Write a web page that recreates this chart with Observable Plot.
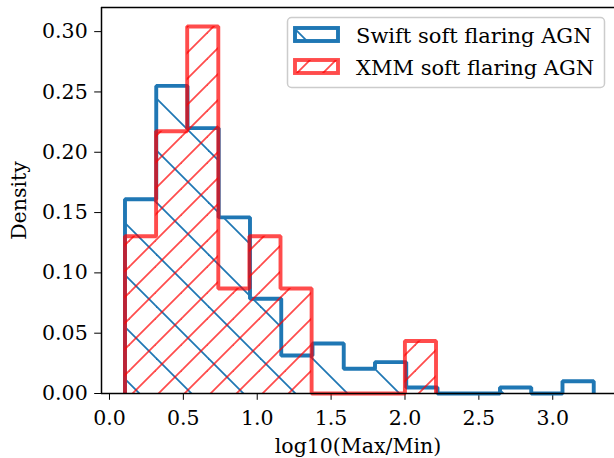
<!DOCTYPE html>
<html><head><meta charset="utf-8">
<script src="https://cdn.jsdelivr.net/npm/d3@7"></script>
<script src="https://cdn.jsdelivr.net/npm/@observablehq/plot@0.6"></script>
<style>
html,body{margin:0;padding:0;background:#fff;overflow:hidden;}
#chart{position:relative;width:614px;height:458px;}
</style></head><body><div id="chart"></div>
<script>
// Data
const seriesNames = ["Swift soft flaring AGN", "XMM soft flaring AGN"];
const swiftEdges = [0.105, 0.3165, 0.528, 0.7395, 0.951, 1.1625, 1.374, 1.5855, 1.797, 2.0085, 2.22, 2.4315, 2.643, 2.8545, 3.066, 3.2775];
const swiftDensity = [0.161, 0.255, 0.220, 0.146, 0.0785, 0.0315, 0.0415, 0.0205, 0.026, 0.005, 0, 0, 0.005, 0, 0.0102];
const xmmEdges = [0.105, 0.3155, 0.526, 0.7365, 0.947, 1.1575, 1.368, 1.5785, 1.789, 1.9995, 2.21];
const xmmDensity = [0.1304, 0.2174, 0.3043, 0.087, 0.1304, 0.087, 0, 0, 0, 0.0435];
const xTicks = [0, 0.5, 1.0, 1.5, 2.0, 2.5, 3.0];
const yTicks = [0, 0.05, 0.10, 0.15, 0.20, 0.25, 0.30];
const xDomain = [-0.054, 3.418];
const yDomain = [0, 0.32];

const BLUE = "#1f77b4";
const RED = "#ff0000";
const FONT = "'DejaVu Serif', serif";

function stepPoints(edges, dens) {
  const pts = [{x: edges[0], y: 0}];
  dens.forEach((d, i) => pts.push({x: edges[i], y: d}));
  pts.push({x: edges[edges.length - 1], y: dens[dens.length - 1]});
  pts.push({x: edges[edges.length - 1], y: 0});
  return pts;
}
const swiftPts = stepPoints(swiftEdges, swiftDensity);
const xmmPts = stepPoints(xmmEdges, xmmDensity);

const svg = Plot.plot({
  width: 614,
  height: 458,
  marginLeft: 101,
  marginRight: 0,
  marginTop: 7,
  marginBottom: 65,
  style: {fontFamily: FONT, fontSize: "20.5px", background: "white", color: "black", overflow: "visible"},
  x: {domain: xDomain, ticks: xTicks, tickFormat: d3.format(".1f"), tickSize: 6.8, tickPadding: 10, label: "log10(Max/Min)", labelAnchor: "center", labelOffset: 59, labelArrow: "none"},
  y: {domain: yDomain, ticks: yTicks, tickFormat: d3.format(".2f"), tickSize: 6.8, tickPadding: 7, label: "Density", labelAnchor: "center", labelOffset: 90, labelArrow: "none"},
  marks: [
    Plot.area(swiftPts, {x1: "x", y1: 0, y2: "y", curve: "step-after", fill: "url(#hatchSwift)"}),
    Plot.line(swiftPts, {x: "x", y: "y", curve: "step-after", stroke: BLUE, strokeWidth: 3.9, strokeLinejoin: "miter", strokeLinecap: "butt"}),
    Plot.area(xmmPts, {x1: "x", y1: 0, y2: "y", curve: "step-after", fill: "url(#hatchXMM)"}),
    Plot.line(xmmPts, {x: "x", y: "y", curve: "step-after", stroke: RED, strokeOpacity: 0.7, strokeWidth: 3.9, strokeLinejoin: "miter", strokeLinecap: "butt"}),
    Plot.ruleX([xDomain[0]], {stroke: "black", strokeWidth: 1.5}),
    Plot.ruleY([yDomain[0]], {stroke: "black", strokeWidth: 1.5}),
    Plot.ruleY([yDomain[1]], {stroke: "black", strokeWidth: 1.5})
  ]
});

// hatch patterns (anchored to figure origin)
const root = d3.select(svg);
const defs = root.insert("defs", ":first-child");
const pb = defs.append("pattern").attr("id", "hatchSwift").attr("patternUnits", "userSpaceOnUse").attr("width", 52).attr("height", 52);
for (const c of [-98, -46, 6, 58]) {
  pb.append("line").attr("x1", c - 10).attr("y1", -10).attr("x2", c + 62).attr("y2", 62)
    .attr("stroke", BLUE).attr("stroke-width", 1.8);
}
const pr = defs.append("pattern").attr("id", "hatchXMM").attr("patternUnits", "userSpaceOnUse").attr("width", 26).attr("height", 26);
for (const d of [-20, 6, 32, 58]) {
  pr.append("line").attr("x1", d + 10).attr("y1", -10).attr("x2", d - 36).attr("y2", 36)
    .attr("stroke", RED).attr("stroke-opacity", 0.7).attr("stroke-width", 1.8);
}

// legend
const lg = root.append("g").attr("text-anchor", "start");
lg.append("rect").attr("x", 287.5).attr("y", 17.5).attr("width", 317).attr("height", 70).attr("rx", 4)
  .attr("fill", "white").attr("fill-opacity", 0.8).attr("stroke", "#cccccc").attr("stroke-width", 1.5);
const legendItems = [
  {name: seriesNames[0], color: BLUE, op: 1, fill: "url(#hatchSwift)"},
  {name: seriesNames[1], color: RED, op: 0.7, fill: "url(#hatchXMM)"}
];
legendItems.forEach((it, i) => {
  lg.append("rect").attr("x", 295).attr("y", 28 + i * 32).attr("width", 43).attr("height", 13)
    .attr("fill", it.fill).attr("stroke", it.color).attr("stroke-opacity", it.op).attr("stroke-width", 3.9);
  lg.append("text").attr("x", 356).attr("y", 43.3 + i * 32).attr("fill", "black").attr("text-anchor", "start")
    .style("font-family", FONT).style("font-size", "21px").text(it.name);
});

document.getElementById("chart").appendChild(svg);
</script>
</body></html>
